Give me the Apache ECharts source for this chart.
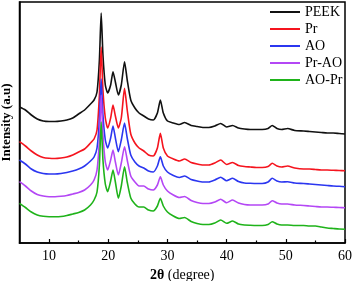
<!DOCTYPE html>
<html>
<head>
<meta charset="utf-8">
<script src="https://cdn.jsdelivr.net/npm/echarts@6/dist/echarts.min.js"></script>
<style>html,body{margin:0;padding:0;background:#fff;}#c{width:354px;height:281px;}</style>
</head>
<body>
<div id="c"></div>
<script>
const seriesNames = ['PEEK', 'Pr', 'AO', 'Pr-AO', 'AO-Pr'];
const xTickLabels = [10, 20, 30, 40, 50, 60];
const xMinorTicks = [15, 25, 35, 45, 55];
const twoTheta = [5, 6, 7, 8, 9, 10, 11, 12, 13, 14, 15, 16, 17, 17.6, 18.1, 18.5, 18.8, 19.1, 19.5, 19.9, 20.4, 20.8, 21.2, 21.7, 22.2, 22.75, 23.2, 23.8, 24.5, 25.2, 26, 26.8, 27.6, 28.3, 28.8, 29.3, 30, 31, 32, 32.9, 34, 35, 36, 37, 38, 39, 40, 41, 42, 43, 44, 45, 46, 47, 47.7, 48.5, 49.3, 50.3, 51.5, 53, 54, 55, 56, 57, 58, 59, 60];
const peek = [193, 190, 185, 181, 179, 178.5, 178.5, 179, 180, 182, 186, 190, 196, 200, 208, 240, 287, 245, 215, 207, 215, 228.3, 218, 205, 215, 238.3, 220, 200, 192, 187, 184, 181, 180, 187, 200, 187, 179, 177, 175.5, 177.5, 174.5, 173.5, 172.5, 172.5, 174, 176.5, 173, 174.5, 172, 171, 170.5, 170.5, 170.5, 171.5, 174.5, 171.5, 170.5, 171.5, 169.5, 169, 168.5, 168, 167.5, 167, 167, 166.5, 166];
const pr = [158.3, 154, 149, 145, 142.5, 141.7, 141.5, 142, 143, 145, 148, 151, 157, 161, 170, 205, 253, 210, 182, 172, 182, 195, 184, 172, 182, 211.7, 190, 166, 157, 152, 149, 145, 144, 152, 166.7, 152, 144, 141, 139, 141, 137.5, 136, 135, 135, 137, 140, 135.5, 137.5, 134.5, 133.5, 133, 132.5, 132.5, 133.5, 136.7, 134, 133, 134, 132, 131, 131, 130.5, 130, 130, 129.7, 129.5, 129.3];
const ao = [140, 136, 131, 128, 126.5, 126, 126, 126.5, 127.5, 129, 131, 134, 139, 143, 152, 180, 221, 185, 160, 152, 162, 174, 162, 148.3, 160, 177, 162, 145, 138, 134, 132, 129, 128, 134, 143.3, 134, 128, 124.5, 122.5, 124, 120.5, 119, 118, 118, 120, 122.7, 119.3, 121.7, 118.5, 117, 116.7, 116.5, 116.5, 118, 121.7, 119, 118, 118.3, 117, 116.5, 116, 115.5, 115, 114.5, 114, 113.7, 113.3];
const prAo = [118.3, 114, 109, 105.5, 104, 103.3, 103.3, 103.7, 104.5, 106, 107.5, 110, 115, 120, 130, 160, 205, 165, 138, 130, 140, 150, 138, 125, 137, 153.3, 140, 124, 118, 114, 114, 111, 110, 115, 123.3, 115, 109, 105, 102.5, 103.5, 99.5, 97.5, 96.5, 96.5, 98, 100.7, 97.3, 100, 97, 95.5, 95, 95, 95, 96, 99.3, 97, 96, 96, 95, 94.5, 94, 93.5, 93, 93, 92.7, 92.5, 92.3];
const aoPr = [96.7, 92.5, 88, 85, 83.7, 83.3, 83.3, 83.5, 84.5, 86, 87.5, 90, 95, 100, 108, 135, 178, 140, 116, 108.3, 119, 130, 118, 101.7, 114, 133.3, 118, 102, 96, 93, 93, 90, 89, 94, 101.7, 94, 88, 84, 81.5, 82.5, 78.5, 76.5, 75.5, 75.5, 77, 80, 76.7, 79, 76, 75, 74.7, 74.5, 74.5, 75.5, 78.3, 76, 75, 75, 74.5, 74.5, 74, 74, 73, 72, 71.5, 71, 70.7];

const allValues = [peek, pr, ao, prAo, aoPr];
const colors = ['#111111', '#f5141e', '#2b36f0', '#b447f5', '#1fb31a'];
const FONT = 'Liberation Serif';

const chart = echarts.init(document.getElementById('c'), null, {renderer: 'canvas'});
chart.setOption({
  animation: false,
  backgroundColor: '#fff',
  grid: {left: 19.5, right: 9, top: 2, bottom: 38, show: true, borderColor: '#000', borderWidth: 1.5, containLabel: false, outerBoundsMode: 'none'},
  legend: {
    orient: 'vertical', left: 270, top: 5, padding: 0,
    itemWidth: 30, itemHeight: 2, itemGap: 3,
    icon: 'rect',
    data: seriesNames,
    textStyle: {fontFamily: FONT, fontSize: 14, color: '#000', lineHeight: 14}
  },
  xAxis: [{
    type: 'value', min: 5, max: 60,
    axisLine: {show: true, lineStyle: {color: '#000', width: 1.5}},
    axisTick: {show: true, inside: true, length: 4, customValues: xTickLabels, lineStyle: {color: '#000', width: 1.2}},
    axisLabel: {customValues: xTickLabels, fontFamily: FONT, fontSize: 14, color: '#000', margin: 6},
    splitLine: {show: false},
    name: '{b|2θ} (degree)', nameLocation: 'middle', nameGap: 21,
    nameTextStyle: {fontFamily: FONT, fontSize: 14, color: '#000', rich: {b: {fontFamily: FONT, fontSize: 14, fontWeight: 'bold', color: '#000'}}}
  }, {
    type: 'value', min: 5, max: 60, position: 'bottom', gridIndex: 0,
    axisLine: {show: false},
    axisTick: {show: true, inside: true, length: 2.5, customValues: xMinorTicks, lineStyle: {color: '#000', width: 1.2}},
    axisLabel: {show: false},
    splitLine: {show: false}
  }],
  yAxis: {
    type: 'value', min: 57, max: 298,
    axisLine: {show: true, lineStyle: {color: '#000', width: 1.5}},
    axisTick: {show: false}, axisLabel: {show: false}, splitLine: {show: false},
    name: 'Intensity (a.u)', nameLocation: 'middle', nameGap: 6,
    nameTextStyle: {fontFamily: FONT, fontSize: 13, fontWeight: 'bold', color: '#000'}
  },
  series: seriesNames.map((n, i) => ({
    name: n, type: 'line', xAxisIndex: 0,
    data: twoTheta.map((x, j) => [x, allValues[i][j]]),
    showSymbol: false, symbol: 'none', smooth: 0.2,
    lineStyle: {color: colors[i], width: 1.6},
    itemStyle: {color: colors[i]}
  }))
});
</script>
</body>
</html>
